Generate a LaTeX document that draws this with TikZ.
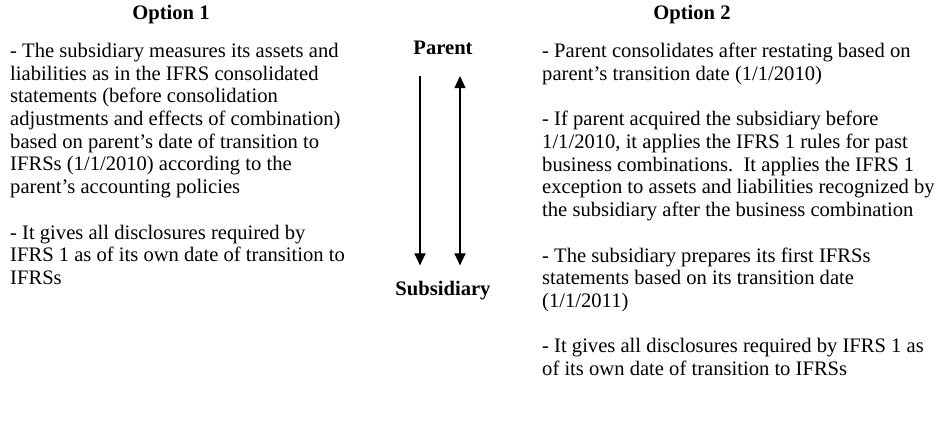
\documentclass[tikz,border=0pt]{standalone}
\usepackage{fontspec}
\setmainfont{Liberation Serif}
\usetikzlibrary{arrows.meta}
\begin{document}
\begin{tikzpicture}[x=1pt,y=-1pt,
  body/.style={anchor=north west, inner sep=0pt, align=left,
    font=\fontsize{20.6}{22.7}\selectfont},
  heading/.style={inner sep=0pt, font=\fontsize{20.6}{22.7}\selectfont\bfseries},
  tip/.tip={Triangle[length=12pt,width=11pt]},
  link/.style={line width=1.1pt}]
\useasboundingbox (0,0) rectangle (941,430);

% column headings
\node[heading] (opt1) at (171,15) {Option 1};
\node[heading] (opt2) at (692,15) {Option 2};

% first option
\node[body] (text1) at (10,43) {%
- The subsidiary measures its assets and\\
liabilities as in the IFRS consolidated\\
statements (before consolidation\\
adjustments and effects of combination)\\
based on parent's date of transition to\\
IFRSs (1/1/2010) according to the\\
parent's accounting policies\\[22.7pt]
- It gives all disclosures required by\\
IFRS 1 as of its own date of transition to\\
IFRSs};

% second option
\node[body] (text2) at (542,43) {%
- Parent consolidates after restating based on\\
parent's transition date (1/1/2010)\\[22.7pt]
- If parent acquired the subsidiary before\\
1/1/2010, it applies the IFRS 1 rules for past\\
business combinations.\ \ It applies the IFRS 1\\
exception to assets and liabilities recognized by\\
the subsidiary after the business combination\\[22.7pt]
- The subsidiary prepares its first IFRSs\\
statements based on its transition date\\
(1/1/2011)\\[22.7pt]
- It gives all disclosures required by IFRS 1 as\\
of its own date of transition to IFRSs};

% entities and the flows between them
\node[heading] (parent) at (443,48) {Parent};
\node[heading] (sub) at (443,291) {Subsidiary};

\draw[link,-tip] ([xshift=-23pt,yshift=-21pt]parent.south) -- ([xshift=-23pt,yshift=16pt]sub.north);
\draw[link,tip-tip] ([xshift=17pt,yshift=-21pt]parent.south) -- ([xshift=17pt,yshift=16pt]sub.north);
\end{tikzpicture}
\end{document}
